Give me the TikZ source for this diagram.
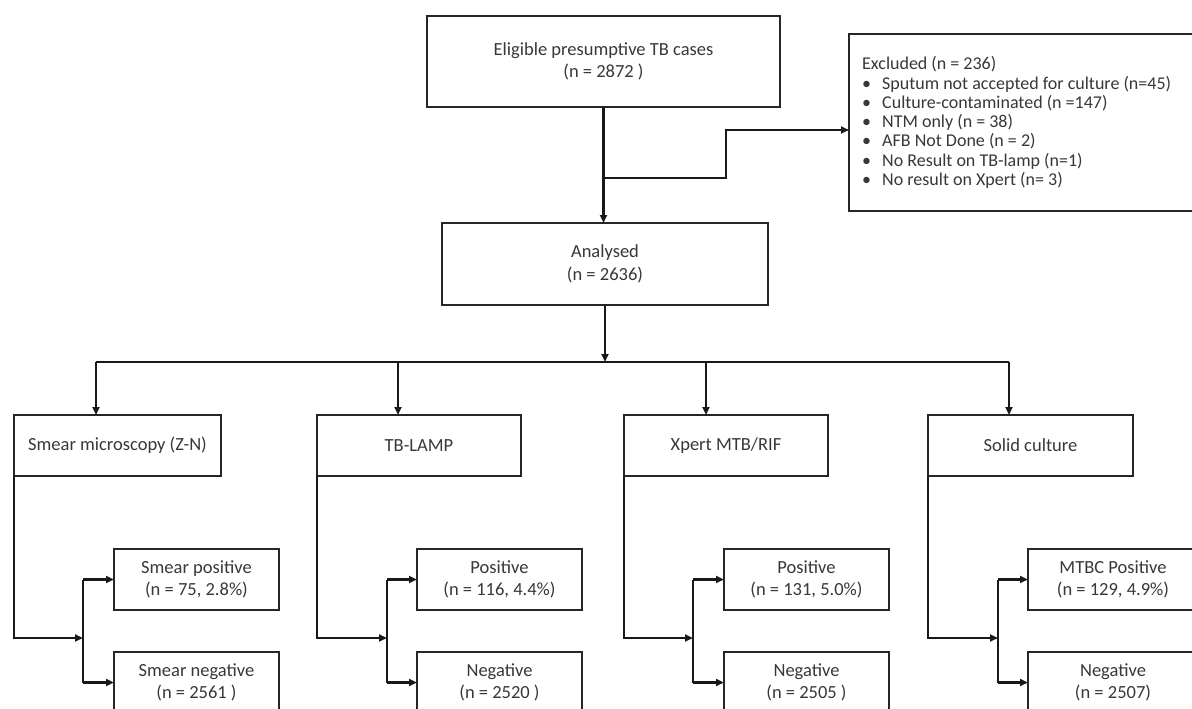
\documentclass[tikz,border=0pt]{standalone}
\usepackage{fontspec}
\setmainfont{Carlito}
\usetikzlibrary{arrows.meta,calc}
\begin{document}
\begin{tikzpicture}[x=1pt,y=-1pt,
  box/.style={draw=black!85, line width=2.2pt, inner sep=2pt, outer sep=0pt, align=center, anchor=north west, text=black!78, font=\fontsize{18.5}{22.5}\selectfont},
  testbox/.style={box, minimum width=205, minimum height=61},
  resbox/.style={box, minimum width=165, minimum height=61},
  line/.style={draw=black!90, line width=2.1pt},
  arr/.style={line, -{Triangle[length=8pt,width=7pt]}},
]
\useasboundingbox (0,0) rectangle (1192,709);
\fill[white] (0,0) rectangle (1192,709);

% top part
\node[box, minimum width=353, minimum height=91] (elig) at (427,16) {Eligible presumptive TB cases\\(n = 2872 )};
\node[box, minimum width=351, minimum height=177] (excl) at (849,34) {};
\node[anchor=west, align=left, inner sep=0pt, text=black!78, font=\fontsize{18}{19.3}\selectfont] (excltext) at ($(excl.west)+(13,0)$)
  {Excluded (n = 236)\\
   \makebox[20pt][l]{\textbullet}Sputum not accepted for culture (n=45)\\
   \makebox[20pt][l]{\textbullet}Culture-contaminated (n =147)\\
   \makebox[20pt][l]{\textbullet}NTM only (n = 38)\\
   \makebox[20pt][l]{\textbullet}AFB Not Done (n = 2)\\
   \makebox[20pt][l]{\textbullet}No Result on TB-lamp (n=1)\\
   \makebox[20pt][l]{\textbullet}No result on Xpert (n= 3)};
\node[box, minimum width=326, minimum height=82] (anal) at (442,223) {Analysed\\(n = 2636)};

% tests
\node[testbox, minimum width=207] (smear) at (14,415) {Smear microscopy (Z-N)};
\node[testbox, minimum width=204] (lamp) at (317,415) {TB-LAMP};
\node[testbox, minimum width=204] (xpert) at (624,415) {Xpert MTB/RIF};
\node[testbox, minimum width=205] (solid) at (928,415) {Solid culture};

% results
\node[resbox] (spos) at (114,549) {Smear positive\\(n = 75, 2.8\%)};
\node[resbox] (sneg) at (114,652) {Smear negative\\(n = 2561 )};
\node[resbox] (lpos) at (417,549) {Positive\\(n = 116, 4.4\%)};
\node[resbox] (lneg) at (417,652) {Negative\\(n = 2520 )};
\node[resbox] (xpos) at (724,549) {Positive\\(n = 131, 5.0\%)};
\node[resbox] (xneg) at (724,652) {Negative\\(n = 2505 )};
\node[resbox, minimum width=170] (cpos) at (1028,549) {MTBC Positive\\(n = 129, 4.9\%)};
\node[resbox, minimum width=170] (cneg) at (1028,652) {Negative\\(n = 2507)};

% connectors top
\coordinate (split) at (elig.south |- 0,178);
\coordinate (jog) at (726,130);
\draw[arr] (elig.south) -- (elig.south |- anal.north);
\draw[arr] (split) -| (jog) -- (jog -| excl.west);

\coordinate (hub) at (anal.south |- 0,362);
\draw[arr] (anal.south) -- (hub);
\coordinate (d1) at (96,362);
\coordinate (d2) at (398,362);
\coordinate (d3) at (706,362);
\coordinate (d4) at (1009,362);
\draw[line] (d1) -- (d4);
\draw[arr] (d1) -- (d1 |- smear.north);
\draw[arr] (d2) -- (d2 |- lamp.north);
\draw[arr] (d3) -- (d3 |- xpert.north);
\draw[arr] (d4) -- (d4 |- solid.north);

% sub connectors
\coordinate (v1) at (83,638);
\coordinate (v2) at (387,638);
\coordinate (v3) at (693,638);
\coordinate (v4) at (998,638);
\foreach \t/\v/\p/\n in {smear/v1/spos/sneg, lamp/v2/lpos/lneg, xpert/v3/xpos/xneg, solid/v4/cpos/cneg}{
  \draw[arr] (\t.south west) |- (\v);
  \draw[line] (\v |- \p.west) -- (\v |- \n.west);
  \draw[arr] (\v |- \p.west) -- (\p.west);
  \draw[arr] (\v |- \n.west) -- (\n.west);
}
\end{tikzpicture}
\end{document}
